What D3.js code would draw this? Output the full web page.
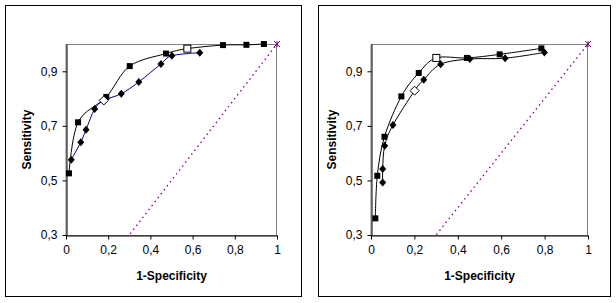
<!DOCTYPE html>
<html>
<head>
<meta charset="utf-8">
<script src="https://cdn.jsdelivr.net/npm/d3@7"></script>
<style>
  body { margin: 0; background: #fff; }
  svg { display: block; font-family: "Liberation Sans", Arial, sans-serif; }
</style>
</head>
<body>
<svg id="chart" width="616" height="303"></svg>
<script>
// ticks
const xTicks = [0, 0.2, 0.4, 0.6, 0.8, 1];
const xTickLabels = ["0", "0,2", "0,4", "0,6", "0,8", "1"];
const yTicks = [0.3, 0.5, 0.7, 0.9];
const yTickLabels = ["0,3", "0,5", "0,7", "0,9"];

// left panel: [1-specificity, sensitivity]
const leftSquares = [[0.014, 0.526], [0.057, 0.713], [0.191, 0.806], [0.302, 0.919], [0.474, 0.965],
                     [0.575, 0.983], [0.744, 0.996], [0.855, 0.997], [0.938, 1.0]];
const leftSquaresOpen = 5;
const leftDiamonds = [[0.025, 0.576], [0.070, 0.640], [0.095, 0.686], [0.136, 0.762], [0.179, 0.793],
                      [0.262, 0.818], [0.345, 0.861], [0.450, 0.927], [0.502, 0.957], [0.634, 0.968]];
const leftDiamondsOpen = 4;

// right panel
const rightSquares = [[0.020, 0.361], [0.029, 0.517], [0.062, 0.660], [0.140, 0.808], [0.220, 0.894],
                      [0.301, 0.949], [0.442, 0.949], [0.593, 0.962], [0.785, 0.984]];
const rightSquaresOpen = 5;
const rightDiamonds = [[0.054, 0.492], [0.054, 0.542], [0.063, 0.627], [0.101, 0.703], [0.201, 0.829],
                       [0.243, 0.869], [0.321, 0.926], [0.455, 0.945], [0.618, 0.948], [0.799, 0.969]];
const rightDiamondsOpen = 4;

// chance line
const diagonal = [[0, 0], [1, 1]];

const svg = d3.select("#chart");

function drawPanel(id, frame, plot, series) {
    // outer box
    svg.append("rect")
        .attr("x", frame.x0).attr("y", frame.y0)
        .attr("width", frame.x1 - frame.x0).attr("height", frame.y1 - frame.y0)
        .attr("fill", "none").attr("stroke", "#000").attr("stroke-width", 1);

    const x = d3.scaleLinear().domain([0, 1]).range([plot.x0, plot.x1]);
    const y = d3.scaleLinear().domain([0.3, 1]).range([plot.y1, plot.y0]);

    svg.append("clipPath").attr("id", "clip" + id)
      .append("rect")
        .attr("x", plot.x0).attr("y", plot.y0)
        .attr("width", plot.x1 - plot.x0).attr("height", plot.y1 - plot.y0);

    // plot area frame (gray top / right)
    svg.append("rect")
        .attr("x", plot.x0).attr("y", plot.y0 + 0.5)
        .attr("width", plot.x1 - plot.x0 - 0.5).attr("height", plot.y1 - plot.y0)
        .attr("fill", "none").attr("stroke", "#808080").attr("stroke-width", 1);

    // diagonal
    svg.append("path")
        .datum(diagonal)
        .attr("clip-path", `url(#clip${id})`)
        .attr("d", d3.line().x(d => x(d[0])).y(d => y(d[1])))
        .attr("fill", "none")
        .attr("stroke", "#800080")
        .attr("stroke-width", 1.3)
        .attr("stroke-dasharray", "1.5,3.5");

    // star marker at (1,1)
    const sx = x(1), sy = y(1), r = 3;
    const star = svg.append("g").attr("stroke", "#800080").attr("stroke-width", 1);
    [[-r, -r, r, r], [-r, r, r, -r], [0, -r, 0, r]].forEach(s => {
        star.append("line")
            .attr("x1", sx + s[0]).attr("y1", sy + s[1])
            .attr("x2", sx + s[2]).attr("y2", sy + s[3]);
    });

    // axes
    const xAxis = svg.append("g")
        .attr("transform", `translate(0,${plot.y1 + 0.5})`)
        .call(d3.axisBottom(x).tickValues(xTicks).tickSize(4).tickSizeOuter(0)
            .tickFormat((d, i) => xTickLabels[i]));
    const yAxis = svg.append("g")
        .attr("transform", `translate(${plot.x0 + 0.5},0)`)
        .call(d3.axisLeft(y).tickValues(yTicks).tickSize(4).tickSizeOuter(0)
            .tickFormat((d, i) => yTickLabels[i]));
    [xAxis, yAxis].forEach(a => {
        a.select(".domain").attr("stroke", "#000");
        a.selectAll(".tick line").attr("stroke", "#000");
        a.selectAll("text")
            .attr("fill", "#000")
            .style("font-size", "12px")
            .style("font-family", "Liberation Sans, Arial, sans-serif");
    });
    xAxis.selectAll("text").attr("dy", "0.71em").attr("y", 10);
    yAxis.selectAll("text").attr("x", -9);

    // curves
    const line = d3.line()
        .x(d => x(d[0])).y(d => y(d[1]))
        .curve(d3.curveCatmullRom.alpha(0));

    series.forEach(s => {
        svg.append("path")
            .datum(s.data)
            .attr("d", line)
            .attr("fill", "none")
            .attr("stroke", s.color)
            .attr("stroke-width", 1);
    });

    series.forEach(s => {
        const g = svg.append("g");
        s.data.forEach((d, i) => {
            const open = i === s.open;
            const px = x(d[0]), py = y(d[1]);
            if (s.shape === "square") {
                const h = open ? 3.5 : 3;
                g.append("rect")
                    .attr("x", px - h).attr("y", py - h)
                    .attr("width", 2 * h).attr("height", 2 * h)
                    .attr("fill", open ? "#fff" : "#000")
                    .attr("stroke", "#000").attr("stroke-width", open ? 1 : 0);
            } else {
                const w = open ? 4.5 : 3.5, hh = open ? 4.5 : 4;
                g.append("path")
                    .attr("d", `M${px},${py - hh}L${px + w},${py}L${px},${py + hh}L${px - w},${py}Z`)
                    .attr("fill", open ? "#fff" : "#000")
                    .attr("stroke", "#000").attr("stroke-width", open ? 1 : 0);
            }
        });
    });

    // axis titles
    svg.append("text")
        .attr("x", (plot.x0 + plot.x1) / 2)
        .attr("y", 280)
        .attr("text-anchor", "middle")
        .style("font-size", "12px")
        .style("font-weight", "bold")
        .text("1-Specificity");
    svg.append("text")
        .attr("transform", `translate(${plot.x0 - 35.5},${(plot.y0 + plot.y1) / 2}) rotate(-90)`)
        .attr("text-anchor", "middle")
        .style("font-size", "12px")
        .style("font-weight", "bold")
        .text("Sensitivity");
}

drawPanel("L",
    { x0: 5.5, x1: 301.5, y0: 5.5, y1: 296.5 },
    { x0: 66, x1: 277, y0: 44, y1: 235 },
    [
        { data: leftSquares, open: leftSquaresOpen, shape: "square", color: "#000" },
        { data: leftDiamonds, open: leftDiamondsOpen, shape: "diamond", color: "#000080" }
    ]);

drawPanel("R",
    { x0: 318.5, x1: 610.5, y0: 5.5, y1: 296.5 },
    { x0: 371, x1: 588, y0: 44, y1: 235 },
    [
        { data: rightSquares, open: rightSquaresOpen, shape: "square", color: "#000" },
        { data: rightDiamonds, open: rightDiamondsOpen, shape: "diamond", color: "#000" }
    ]);
</script>
</body>
</html>
